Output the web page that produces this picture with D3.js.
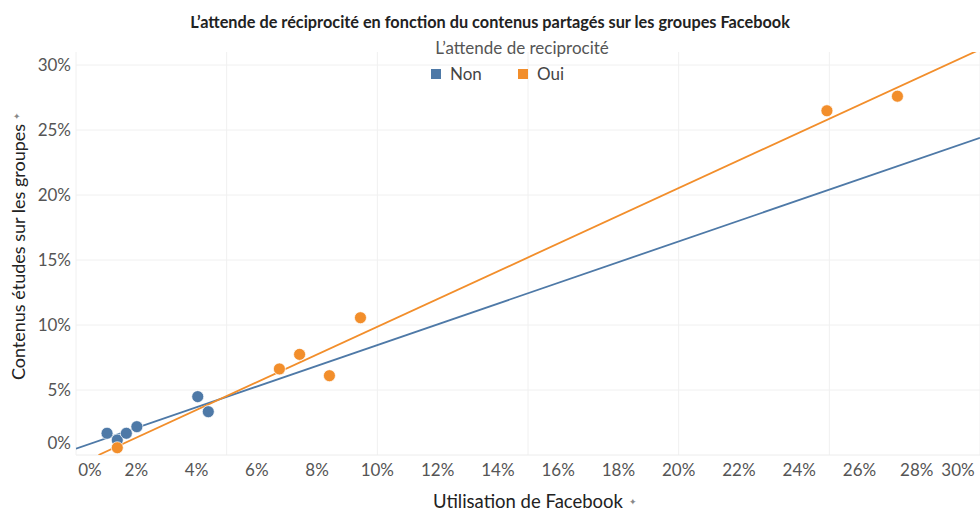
<!DOCTYPE html>
<html>
<head>
<meta charset="utf-8">
<script src="https://cdn.jsdelivr.net/npm/d3@7"></script>
<style>
  body { margin: 0; background: #fff; }
  svg { font-family: Lato, "Open Sans", sans-serif; }
</style>
</head>
<body>
<svg width="980" height="511"></svg>
<script>
// values (percent)
var nonX = [1.03, 1.37, 1.67, 2.02, 4.04, 4.39];
var nonY = [1.67, 1.15, 1.67, 2.18, 4.49, 3.33];
var ouiX = [1.37, 6.75, 7.42, 8.41, 9.44, 24.92, 27.26];
var ouiY = [0.56, 6.62, 7.74, 6.10, 10.56, 26.48, 27.60];

var categories = ["Non", "Oui"];
var colors = ["#4e79a7", "#f28e2b"];
var xTicks = [0, 2, 4, 6, 8, 10, 12, 14, 16, 18, 20, 22, 24, 26, 28, 30];
var yTicks = [0, 5, 10, 15, 20, 25, 30];
var gridX = [5, 10, 15, 20, 25, 30];

function fit(xs, ys) {
    var mx = d3.mean(xs), my = d3.mean(ys);
    var sxy = 0, sxx = 0;
    for (var i = 0; i < xs.length; i++) {
        sxy += (xs[i] - mx) * (ys[i] - my);
        sxx += (xs[i] - mx) * (xs[i] - mx);
    }
    var b = sxy / sxx;
    return {b: b, a: my - b * mx};
}

function draw() {
    var svg = d3.select("svg");
    var paneL = 76, paneR = 980, paneT = 52, paneB = 455;

    var x = d3.scaleLinear().domain([0, 30]).range([paneL, paneR]);
    var y = d3.scaleLinear().domain([0, 31]).range([paneB, paneT]);

    // gridlines
    svg.append("g").selectAll("line")
        .data(yTicks.slice(1))
        .enter().append("line")
        .attr("x1", paneL).attr("x2", paneR)
        .attr("y1", function(d) { return y(d); })
        .attr("y2", function(d) { return y(d); })
        .attr("stroke", "#f0f0f0");
    svg.append("g").selectAll("line")
        .data(gridX)
        .enter().append("line")
        .attr("y1", paneT).attr("y2", paneB)
        .attr("x1", function(d) { return x(d); })
        .attr("x2", function(d) { return x(d); })
        .attr("stroke", "#f0f0f0");
    svg.append("line")
        .attr("x1", paneL).attr("x2", paneR)
        .attr("y1", y(0)).attr("y2", y(0))
        .attr("stroke", "#ececec");
    svg.append("line")
        .attr("x1", paneL).attr("x2", paneL)
        .attr("y1", paneT).attr("y2", paneB)
        .attr("stroke", "#f0f0f0");

    svg.append("defs").append("clipPath").attr("id", "pane")
        .append("rect")
        .attr("x", paneL).attr("y", paneT)
        .attr("width", paneR - paneL).attr("height", paneB - paneT);

    // y axis labels
    svg.append("g").selectAll("text")
        .data(yTicks)
        .enter().append("text")
        .attr("x", 71)
        .attr("y", function(d) { return d == 0 ? y(d) - 12 : y(d); })
        .attr("dy", "0.35em")
        .attr("text-anchor", "end")
        .attr("fill", "#555")
        .style("font-size", "17px")
        .text(function(d) { return d + "%"; });

    // x axis labels
    svg.append("g").selectAll("text")
        .data(xTicks)
        .enter().append("text")
        .attr("x", function(d) {
            if (d == 0) return x(d) + 14;
            if (d == 30) return x(d) - 22;
            if (d == 28) return x(d) - 3;
            return x(d);
        })
        .attr("y", 476)
        .attr("text-anchor", "middle")
        .attr("fill", "#555")
        .style("font-size", "17px")
        .text(function(d) { return d + "%"; });

    // trend lines
    var series = [[nonX, nonY], [ouiX, ouiY]];
    var lines = svg.append("g").attr("clip-path", "url(#pane)");
    series.forEach(function(s, i) {
        var f = fit(s[0], s[1]);
        var x0 = Math.max(0, -f.a / f.b);
        lines.append("line")
            .attr("x1", x(x0)).attr("y1", y(f.a + f.b * x0))
            .attr("x2", x(30)).attr("y2", y(f.a + f.b * 30))
            .attr("stroke", colors[i])
            .attr("stroke-width", 1.8);
    });

    // points
    series.forEach(function(s, i) {
        svg.append("g").selectAll("circle")
            .data(d3.range(s[0].length))
            .enter().append("circle")
            .attr("cx", function(j) { return x(s[0][j]); })
            .attr("cy", function(j) { return y(s[1][j]); })
            .attr("r", 6)
            .attr("fill", colors[i])
            .attr("stroke", "#fff")
            .attr("stroke-opacity", 0.7)
            .attr("stroke-width", 1);
    });

    // title
    svg.append("text")
        .attr("x", 490).attr("y", 28)
        .attr("text-anchor", "middle")
        .attr("fill", "#222")
        .style("font-size", "16.3px")
        .style("font-weight", "bold")
        .text("L’attende de réciprocité en fonction du contenus partagés sur les groupes Facebook");

    // legend
    svg.append("text")
        .attr("x", 522).attr("y", 54)
        .attr("text-anchor", "middle")
        .attr("fill", "#555")
        .style("font-size", "17px")
        .text("L’attende de reciprocité");

    var legX = [431, 518];
    categories.forEach(function(c, i) {
        svg.append("rect")
            .attr("x", legX[i]).attr("y", 69)
            .attr("width", 10).attr("height", 10)
            .attr("fill", colors[i]);
        svg.append("text")
            .attr("x", legX[i] + 19).attr("y", 80)
            .attr("fill", "#444")
            .style("font-size", "17px")
            .text(c);
    });

    // axis titles
    svg.append("text")
        .attr("transform", "translate(25,252) rotate(-90)")
        .attr("text-anchor", "middle")
        .attr("fill", "#222")
        .style("font-size", "18px")
        .text("Contenus études sur les groupes");
    svg.append("text")
        .attr("transform", "translate(20,116) rotate(-90)")
        .attr("text-anchor", "middle")
        .attr("fill", "#888")
        .style("font-size", "9px")
        .text("✦");

    svg.append("text")
        .attr("x", 528).attr("y", 508)
        .attr("text-anchor", "middle")
        .attr("fill", "#222")
        .style("font-size", "18.5px")
        .text("Utilisation de Facebook");
    svg.append("text")
        .attr("x", 633).attr("y", 505)
        .attr("text-anchor", "middle")
        .attr("fill", "#888")
        .style("font-size", "9px")
        .text("✦");
}

draw();
</script>
</body>
</html>
